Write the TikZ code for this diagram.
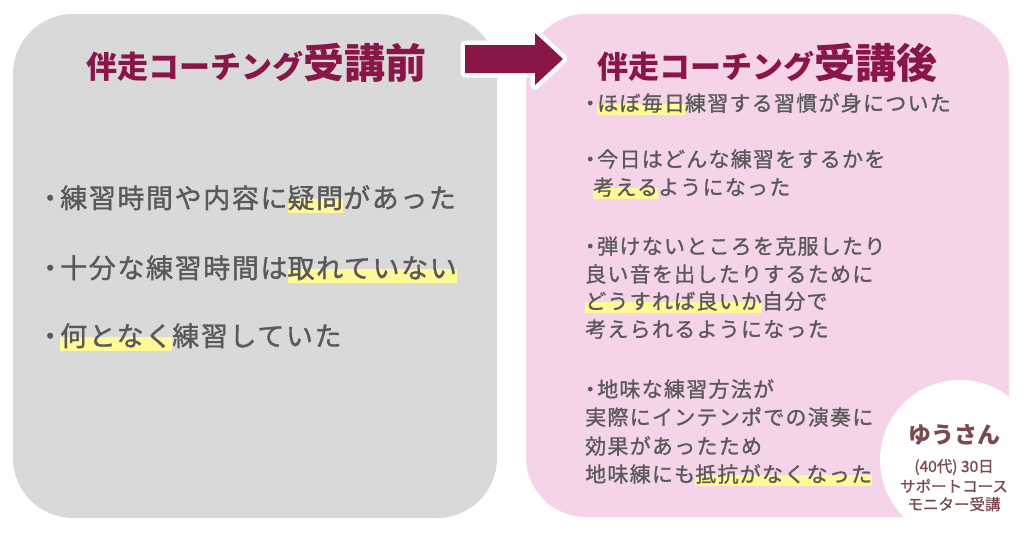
\documentclass[tikz,border=0pt]{standalone}
\usepackage{fontspec}
\setmainfont{Noto Sans CJK JP}
\newfontfamily\cjkbig[LetterSpace=6,FakeBold=1.2]{Noto Sans CJK JP}
\newfontfamily\cjksmall[LetterSpace=6,FakeBold=1.0]{Noto Sans CJK JP}
\newfontfamily\cjkcirc[FakeBold=1.0]{Noto Sans CJK JP}
\definecolor{gp}{HTML}{D9D9D9}
\definecolor{pk}{HTML}{F5D4EA}
\definecolor{mag}{HTML}{8A1548}
\definecolor{txt}{HTML}{595959}
\definecolor{hly}{HTML}{FFFA96}
\definecolor{brn}{HTML}{7B4A50}
\newcommand\hl[1]{\setbox0\hbox{#1}\rlap{\color{hly}\rule[-0.2em]{\wd0}{0.55em}}\box0}
\newcommand\bulL{\makebox[20pt][c]{・}}
\newcommand\bulR{\makebox[14pt][c]{・}}
\tikzset{
  panel/.style={rounded corners=60pt},
  ttl/.style={anchor=base, inner sep=0pt, text=mag, font=\bfseries},
  lt/.style={anchor=base west, inner sep=0pt, text=txt, font=\fontsize{27}{30}\selectfont\cjkbig},
  rt/.style={anchor=base west, inner sep=0pt, text=txt, font=\fontsize{21}{24}\selectfont\cjksmall},
  ct/.style={anchor=base, inner sep=0pt, text=brn}
}
\begin{document}
\begin{tikzpicture}[x=1pt,y=-1pt]
\useasboundingbox (0,0) rectangle (1024,533);
\fill[white] (0,0) rectangle (1024,533);
% panels
\fill[gp, panel] (13,14) rectangle (497,518);
\fill[pk, panel] (526,14) rectangle (1009,517);
\fill[white] (960,460) circle (80);
% arrow
\path[draw=white, line width=9pt, line join=round, fill=mag]
  (465,45) -- (535,45) -- (535,33) -- (563,59) -- (535,85) -- (535,73) -- (465,73) -- cycle;
\fill[mag] (465,45) -- (535,45) -- (535,33) -- (563,59) -- (535,85) -- (535,73) -- (465,73) -- cycle;
% titles
\node[ttl] (t1) at (256,78) {\fontsize{31}{34}\selectfont 伴走コーチング\fontsize{41}{44}\selectfont 受講前};
\node[ttl] (t2) at (767,78) {\fontsize{31}{34}\selectfont 伴走コーチング\fontsize{41}{44}\selectfont 受講後};
% left items
\node[lt] (l1) at (40,208) {\bulL 練習時間や内容に\hl{疑問}があった};
\node[lt] (l2) at (40,278) {\bulL 十分な練習時間は\hl{取れていない}};
\node[lt] (l3) at (40,346) {\bulL\hl{何となく}練習していた};
% right items
\node[rt] (r1) at (583,111) {\bulR\hl{ほぼ毎日}練習する習慣が身についた};
\node[rt] (r2) at (583,167) {\bulR 今日はどんな練習をするかを};
\node[rt] (r3) at (593,195) {\hl{考える}ようになった};
\node[rt] (r4) at (583,254) {\bulR 弾けないところを克服したり};
\node[rt] (r5) at (585,282) {良い音を出したりするために};
\node[rt] (r6) at (585,309) {\hl{どうすれば良いか}自分で};
\node[rt] (r7) at (585,337) {考えられるようになった};
\node[rt] (r8) at (583,397) {\bulR 地味な練習方法が};
\node[rt] (r9) at (585,425) {実際にインテンポでの演奏に};
\node[rt] (r10) at (585,454) {効果があったため};
\node[rt] (r11) at (585,482) {地味練にも\hl{抵抗がなくなった}};
% circle text
\node[ct, font=\fontsize{23}{26}\selectfont\bfseries] (c1) at (954,443) {ゆうさん};
\node[ct, font=\fontsize{15.5}{18}\selectfont\cjkcirc] (c2) at (954,472) {(40代) 30日};
\node[ct, font=\fontsize{15.5}{18}\selectfont\cjkcirc] (c3) at (954,492) {サポートコース};
\node[ct, font=\fontsize{15.5}{18}\selectfont\cjkcirc] (c4) at (954,510) {モニター受講};
\end{tikzpicture}
\end{document}
